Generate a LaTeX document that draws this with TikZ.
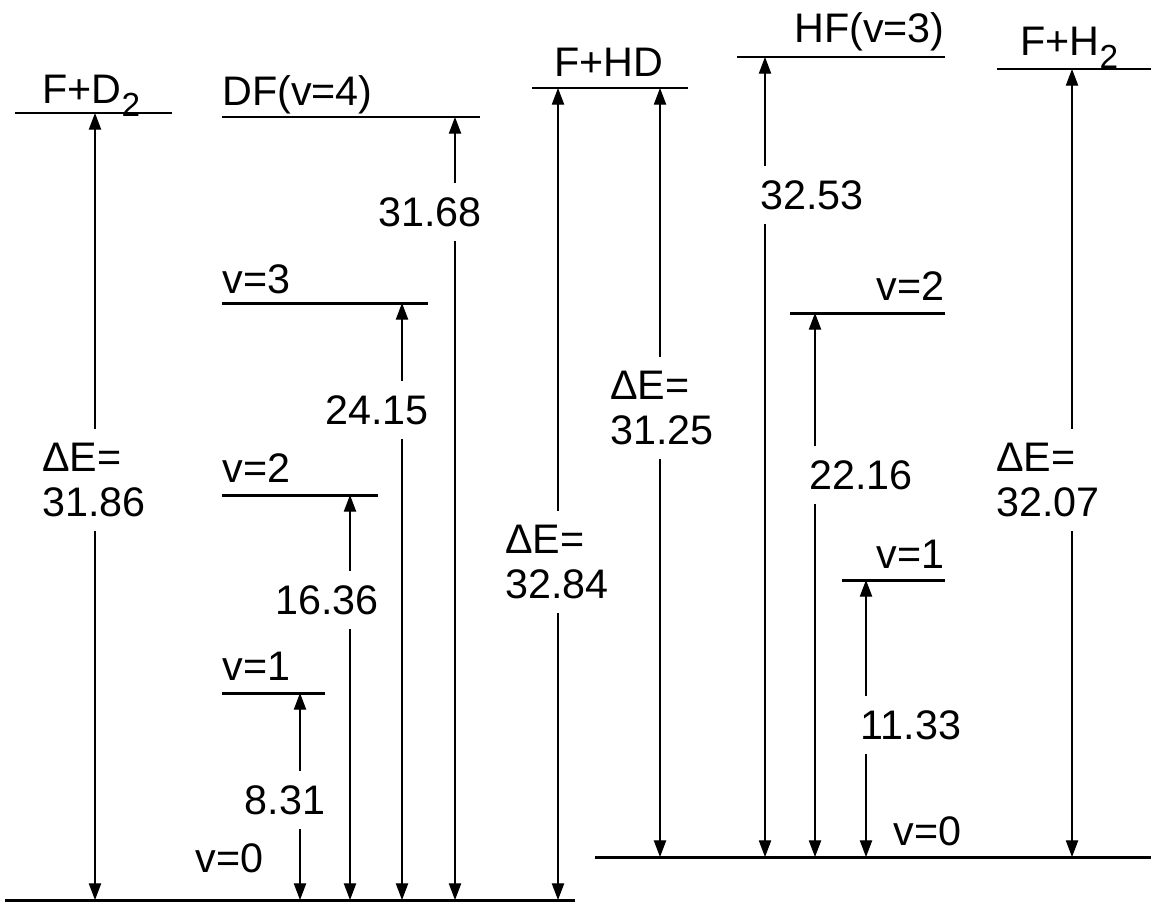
\documentclass[tikz,border=0pt]{standalone}
\usepackage{fontspec}
\setmainfont{Liberation Sans}
\usetikzlibrary{arrows.meta}
\newcommand{\subs}[1]{\raisebox{-0.6ex}{\fontsize{19}{19}\selectfont #1}}
\begin{document}
\begin{tikzpicture}[x=0.02cm, y=-0.02cm,
  lvl/.style={line width=1.7pt},
  ea/.style={line width=0.75pt,
             {Triangle[length=9.5pt, width=7pt]}-{Triangle[length=9.5pt, width=7pt]}},
  txt/.style={font=\fontsize{23.5}{25.5}\selectfont, inner sep=0pt},
  val/.style={txt, fill=white, inner xsep=2pt, inner ysep=8pt, align=left}]

  \useasboundingbox (0,0) rectangle (1151,903);

  % ground levels
  \coordinate (gl) at (5,900);
  \coordinate (gr) at (595,857);
  \draw[lvl] (gl) -- ++(570,0);
  \draw[lvl] (gr) -- ++(556,0);

  % upper levels
  \coordinate (fd2)  at (15,113);
  \coordinate (df4)  at (222,117);
  \coordinate (df3)  at (222,303);
  \coordinate (df2)  at (222,495);
  \coordinate (df1)  at (222,693);
  \coordinate (fhd)  at (532,88);
  \coordinate (hf3)  at (737,57);
  \coordinate (hf2)  at (790,313);
  \coordinate (hf1)  at (842,580);
  \coordinate (fh2)  at (997,69);
  \draw[lvl] (fd2) -- ++(157,0);
  \draw[lvl] (df4) -- ++(258,0);
  \draw[lvl] (df3) -- ++(206,0);
  \draw[lvl] (df2) -- ++(156,0);
  \draw[lvl] (df1) -- ++(103,0);
  \draw[lvl] (fhd) -- ++(156,0);
  \draw[lvl] (hf3) -- ++(208,0);
  \draw[lvl] (hf2) -- ++(155,0);
  \draw[lvl] (hf1) -- ++(103,0);
  \draw[lvl] (fh2) -- ++(154,0);

  % arrow feet
  \coordinate (a1)  at (95,900);
  \coordinate (a2)  at (300,900);
  \coordinate (a3)  at (350,900);
  \coordinate (a4)  at (402,900);
  \coordinate (a5)  at (455,900);
  \coordinate (a6)  at (558,900);
  \coordinate (a7)  at (660,857);
  \coordinate (a8)  at (765,857);
  \coordinate (a9)  at (815,857);
  \coordinate (a10) at (866,857);
  \coordinate (a11) at (1072,857);

  \draw[ea] (a1)  -- (a1 |- fd2);
  \draw[ea] (a2)  -- (a2 |- df1);
  \draw[ea] (a3)  -- (a3 |- df2);
  \draw[ea] (a4)  -- (a4 |- df3);
  \draw[ea] (a5)  -- (a5 |- df4);
  \draw[ea] (a6)  -- (a6 |- fhd);
  \draw[ea] (a7)  -- (a7 |- fhd);
  \draw[ea] (a8)  -- (a8 |- hf3);
  \draw[ea] (a9)  -- (a9 |- hf2);
  \draw[ea] (a10) -- (a10 |- hf1);
  \draw[ea] (a11) -- (a11 |- fh2);

  % level names
  \node[txt, anchor=base west] (nfd2) at (42,103)  {F+D\subs{2}};
  \node[txt, anchor=base west] (ndf4) at (222,105) {DF(v=4)};
  \node[txt, anchor=base west] (ndf3) at (222,293) {v=3};
  \node[txt, anchor=base west] (ndf2) at (222,482) {v=2};
  \node[txt, anchor=base west] (ndf1) at (222,680) {v=1};
  \node[txt, anchor=base west] (ndf0) at (195,872) {v=0};
  \node[txt, anchor=base]      (nfhd) at (609,76)  {F+HD};
  \node[txt, anchor=base east] (nhf3) at (945,42)  {HF(v=3)};
  \node[txt, anchor=base east] (nhf2) at (945,300) {v=2};
  \node[txt, anchor=base east] (nhf1) at (945,568) {v=1};
  \node[txt, anchor=base west] (nhf0) at (893,845) {v=0};
  \node[txt, anchor=base west] (nfh2) at (1020,55) {F+H\subs{2}};

  % energies
  \node[val] (e1)  at (94,480)   {ΔE=\\31.86};
  \node[val] (e2)  at (285,800)  {8.31};
  \node[val] (e3)  at (327,600)  {16.36};
  \node[val] (e4)  at (377,410)  {24.15};
  \node[val] (e5)  at (430,212)  {31.68};
  \node[val] (e6)  at (557,562)  {ΔE=\\32.84};
  \node[val] (e7)  at (662,408)  {ΔE=\\31.25};
  \node[val] (e8)  at (812,195)  {32.53};
  \node[val] (e9)  at (861,475)  {22.16};
  \node[val] (e10) at (911,725)  {11.33};
  \node[val] (e11) at (1048,480) {ΔE=\\32.07};

\end{tikzpicture}
\end{document}
